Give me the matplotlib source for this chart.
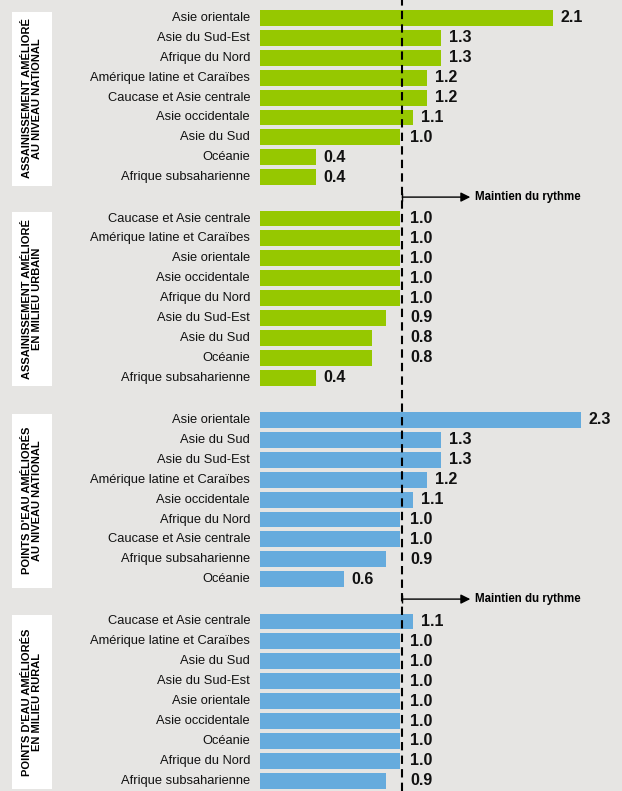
import matplotlib.pyplot as plt
from matplotlib import transforms
from matplotlib.lines import Line2D

plt.rcParams['font.family'] = ['Liberation Sans Narrow', 'Liberation Sans', 'DejaVu Sans']

# ---- données ----
titres = [
    "ASSAINISSEMENT AMÉLIORÉ\nAU NIVEAU NATIONAL",
    "ASSAINISSEMENT AMÉLIORÉ\nEN MILIEU URBAIN",
    "POINTS D'EAU AMÉLIORÉS\nAU NIVEAU NATIONAL",
    "POINTS D'EAU AMÉLIORÉS\nEN MILIEU RURAL",
]

regions_1 = ["Asie orientale", "Asie du Sud-Est", "Afrique du Nord",
             "Amérique latine et Caraïbes", "Caucase et Asie centrale",
             "Asie occidentale", "Asie du Sud", "Océanie", "Afrique subsaharienne"]
valeurs_1 = [2.1, 1.3, 1.3, 1.2, 1.2, 1.1, 1.0, 0.4, 0.4]

regions_2 = ["Caucase et Asie centrale", "Amérique latine et Caraïbes",
             "Asie orientale", "Asie occidentale", "Afrique du Nord",
             "Asie du Sud-Est", "Asie du Sud", "Océanie", "Afrique subsaharienne"]
valeurs_2 = [1.0, 1.0, 1.0, 1.0, 1.0, 0.9, 0.8, 0.8, 0.4]

regions_3 = ["Asie orientale", "Asie du Sud", "Asie du Sud-Est",
             "Amérique latine et Caraïbes", "Asie occidentale", "Afrique du Nord",
             "Caucase et Asie centrale", "Afrique subsaharienne", "Océanie"]
valeurs_3 = [2.3, 1.3, 1.3, 1.2, 1.1, 1.0, 1.0, 0.9, 0.6]

regions_4 = ["Caucase et Asie centrale", "Amérique latine et Caraïbes",
             "Asie du Sud", "Asie du Sud-Est", "Asie orientale",
             "Asie occidentale", "Océanie", "Afrique du Nord", "Afrique subsaharienne"]
valeurs_4 = [1.1, 1.0, 1.0, 1.0, 1.0, 1.0, 1.0, 1.0, 0.9]

panneaux = [(regions_1, valeurs_1), (regions_2, valeurs_2),
            (regions_3, valeurs_3), (regions_4, valeurs_4)]
couleurs = ["#96c800", "#96c800", "#66abdd", "#66abdd"]
fleche_apres = [True, False, True, False]
texte_fleche = "Maintien du rythme"

# ---- mise en page (pixels) ----
W, H = 622, 791
fond = "#e6e5e3"
x0_px = 260.0          # position de la valeur 0
px_par_unite = 139.5
ecart = 19.9           # pas entre barres
centres_1 = [18, 218.5, 420, 621.5]   # centre de la première barre de chaque bloc

xmin = -x0_px / px_par_unite
xmax = (W - x0_px) / px_par_unite
ligne_ref = 1.02
decal = 8 / px_par_unite

fig = plt.figure(figsize=(W / 100, H / 100), dpi=100, facecolor=fond)

axes = []
for i, (regs, vals) in enumerate(panneaux):
    n = len(regs)
    haut = centres_1[i] - ecart / 2
    hauteur = n * ecart
    ax = fig.add_axes([0, 1 - (haut + hauteur) / H, 1, hauteur / H])
    ax.set_facecolor("none")
    ax.set_xlim(xmin, xmax)
    ax.set_ylim(n - 0.5, -0.5)
    ax.axis("off")
    ypos = list(range(n))
    ax.barh(ypos, vals, height=0.8, color=couleurs[i], zorder=1)
    for y, r, v in zip(ypos, regs, vals):
        ax.text(-10 / px_par_unite, y, r, ha="right", va="center",
                fontsize=9.3, color="#111111")
        # l'étiquette passe à droite de la ligne pointillée si elle la chevauche
        xt = max(v, ligne_ref) if v + 0.3 > ligne_ref else v
        ax.text(xt + decal, y, f"{v:.1f}", ha="left", va="center",
                fontsize=11.5, fontweight="bold", color="#111111")
    if fleche_apres[i]:
        ax.annotate("", xy=(ligne_ref + 68 / px_par_unite, n), xytext=(ligne_ref, n),
                    arrowprops=dict(arrowstyle="-|>", color="black", lw=1,
                                    mutation_scale=14, shrinkA=0, shrinkB=0),
                    annotation_clip=False)
        ax.plot([ligne_ref], [n], marker="|", color="black", ms=6, clip_on=False)
        ax.text(ligne_ref + 73 / px_par_unite, n, texte_fleche, ha="left", va="center",
                fontsize=8.3, fontweight="bold", clip_on=False)
    axes.append(ax)

    # cartouche blanc avec le titre
    bh = 174
    bx = fig.add_axes([12 / W, 1 - (haut + 3.5 + bh) / H, 40 / W, bh / H])
    bx.set_facecolor("white")
    bx.set_xticks([])
    bx.set_yticks([])
    for s in bx.spines.values():
        s.set_visible(False)
    bx.text(0.5, 0.5, titres[i], rotation=90, ha="center", va="center",
            fontsize=8, fontweight="bold", linespacing=1.05, multialignment="center",
            transform=bx.transAxes)

# ligne pointillée verticale sur toute la hauteur
trans = transforms.blended_transform_factory(axes[0].transData, fig.transFigure)
fig.add_artist(Line2D([ligne_ref, ligne_ref], [0, 1], transform=trans,
                      color="black", lw=1.5, ls=(0, (4, 2.5)), zorder=5))

fig.savefig("out.png", dpi=100, facecolor=fond)
